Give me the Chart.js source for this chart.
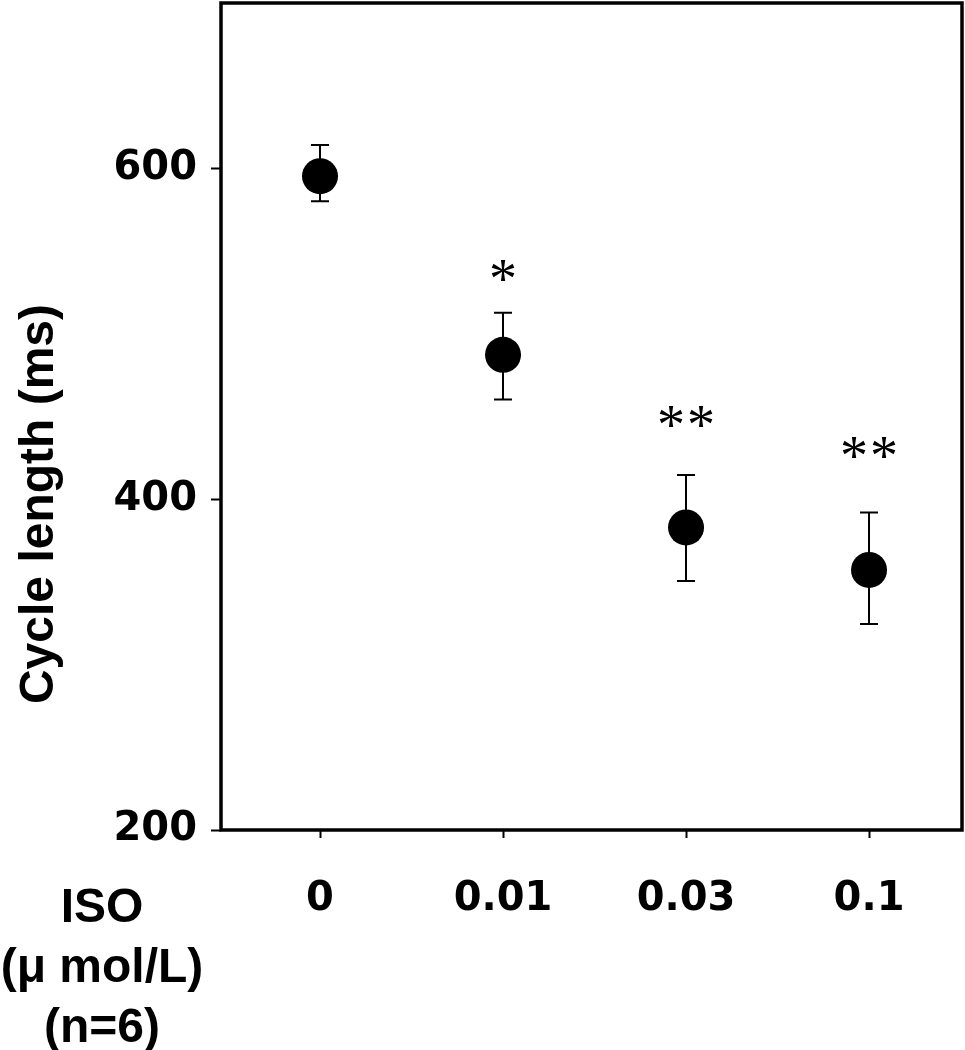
<!DOCTYPE html>
<html><head><meta charset="utf-8">
<script src="https://cdn.jsdelivr.net/npm/chart.js@4.4.0/dist/chart.umd.min.js"></script>
<style>html,body{margin:0;padding:0;background:#fff;} canvas{display:block;}</style>
</head><body>
<canvas id="c" width="965" height="1050"></canvas>
<script>
const categories = ['0', '0.01', '0.03', '0.1'];
const cycleLength = [595.3, 487.3, 382.9, 357.2];
const errTop = [614.1, 512.7, 414.7, 392.0];
const errBottom = [580.2, 460.3, 350.6, 324.5];
const sigMarks = ['', '*', '**', '**'];
const sigLevel = [null, 538, 450, 431];
const yTicks = [200, 400, 600];
const yTitle = 'Cycle length (ms)';
const xTitleLines = ['ISO', '(\u03bc mol/L)', '(n=6)'];

const decor = {
  id: 'decor',
  beforeDatasetsDraw(chart) {
    const {ctx, scales: {x, y}} = chart;
    ctx.save();
    ctx.strokeStyle = '#000';
    ctx.lineWidth = 2;
    cycleLength.forEach((v, i) => {
      const px = Math.round(x.getPixelForValue(i));
      const t = y.getPixelForValue(errTop[i]);
      const b = y.getPixelForValue(errBottom[i]);
      ctx.beginPath();
      ctx.moveTo(px, t); ctx.lineTo(px, b);
      ctx.moveTo(px - 9, t); ctx.lineTo(px + 9, t);
      ctx.moveTo(px - 9, b); ctx.lineTo(px + 9, b);
      ctx.stroke();
    });
    ctx.restore();
  },
  afterDraw(chart) {
    const {ctx, chartArea: ca, scales: {x, y}} = chart;
    ctx.save();
    ctx.strokeStyle = '#000';
    ctx.lineWidth = 3.5;
    ctx.strokeRect(ca.left, ca.top, ca.right - ca.left, ca.bottom - ca.top);
    ctx.fillStyle = '#000';
    ctx.font = '56px "Liberation Serif"';
    ctx.textAlign = 'center';
    ctx.textBaseline = 'alphabetic';
    const m = ctx.measureText('*');
    const off = (m.actualBoundingBoxAscent - m.actualBoundingBoxDescent) / 2;
    sigMarks.forEach((s, i) => {
      if (!s) return;
      const px = x.getPixelForValue(i);
      const py = y.getPixelForValue(sigLevel[i]);
      const n = s.length;
      for (let k = 0; k < n; k++) {
        ctx.fillText('*', px + (k - (n - 1) / 2) * 30, py + off);
      }
    });
    ctx.font = 'bold 48px "Liberation Sans"';
    ctx.save();
    ctx.translate(53, 504);
    ctx.rotate(-Math.PI / 2);
    ctx.textAlign = 'center';
    ctx.fillText(yTitle, 0, 0);
    ctx.restore();
    ctx.textAlign = 'center';
    xTitleLines.forEach((line, k) => ctx.fillText(line, 102, 922 + k * 60));
    ctx.restore();
  }
};

const noPad = s => { s.paddingTop = 0; s.paddingBottom = 0; s.paddingLeft = 0; s.paddingRight = 0; };

new Chart(document.getElementById('c'), {
  type: 'scatter',
  data: {
    datasets: [{
      data: cycleLength.map((v, i) => ({x: i, y: v})),
      pointRadius: 18,
      pointHoverRadius: 18,
      backgroundColor: '#000',
      borderWidth: 0,
      showLine: false
    }]
  },
  options: {
    responsive: false,
    animation: false,
    devicePixelRatio: 1,
    events: [],
    layout: {autoPadding: false, padding: {top: 3, right: 3, left: 0, bottom: 0}},
    plugins: {legend: {display: false}, tooltip: {enabled: false}},
    scales: {
      x: {
        type: 'linear',
        min: -0.541,
        max: 3.508,
        afterBuildTicks: s => { s.ticks = categories.map((c, i) => ({value: i})); },
        afterFit: s => { s.height = 220; noPad(s); },
        border: {display: false},
        grid: {display: true, drawOnChartArea: false, drawTicks: true, tickLength: 8, tickWidth: 2, tickColor: '#000'},
        ticks: {
          autoSkip: false,
          maxRotation: 0,
          padding: 38,
          color: '#000',
          font: {family: '"DejaVu Sans"', weight: 'bold', size: 40},
          callback: v => categories[v] ?? ''
        }
      },
      y: {
        min: 200,
        max: 700,
        afterBuildTicks: s => { s.ticks = yTicks.map(v => ({value: v})); },
        afterFit: s => { s.width = 221; noPad(s); },
        border: {display: false},
        grid: {display: true, drawOnChartArea: false, drawTicks: true, tickLength: 10, tickWidth: 2, tickColor: '#000'},
        ticks: {
          padding: 14,
          color: '#000',
          font: {family: '"DejaVu Sans"', weight: 'bold', size: 40}
        }
      }
    }
  },
  plugins: [decor]
});
</script>
</body></html>
